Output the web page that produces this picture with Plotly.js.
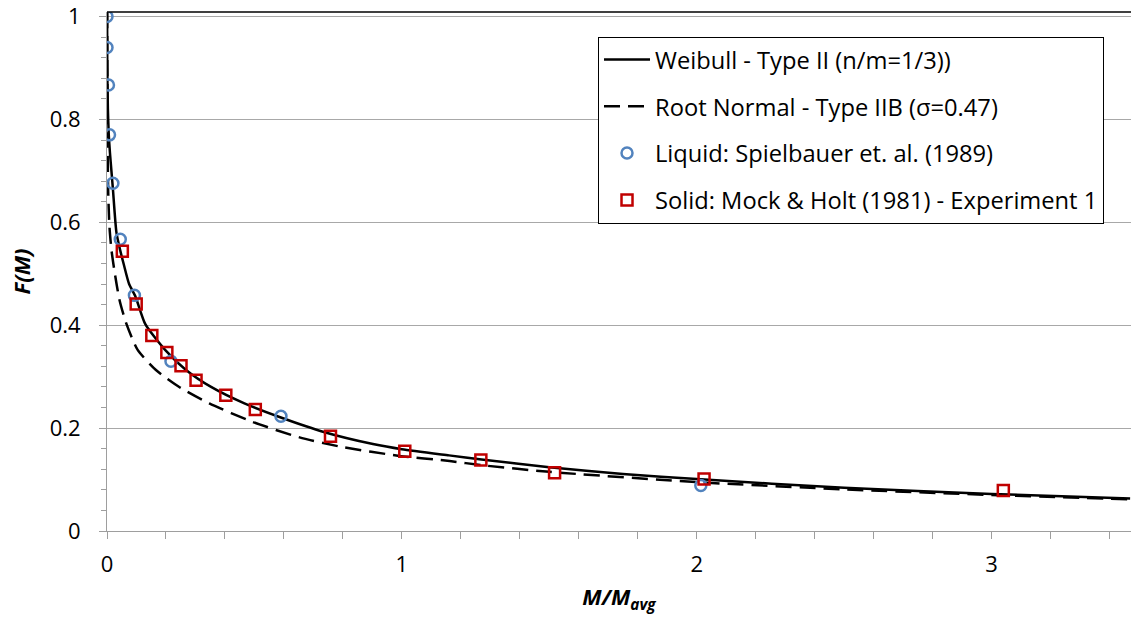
<!DOCTYPE html>
<html>
<head>
<meta charset="utf-8">
<script src="https://cdn.plot.ly/plotly-3.0.1.min.js"></script>
<style>html,body{margin:0;padding:0;background:#fff;}#chart{width:1131px;height:623px;}</style>
</head>
<body>
<div id="chart"></div>
<script>
// Weibull - Type II curve
const weibullX = [0.0003, 0.001, 0.003, 0.006, 0.01, 0.015, 0.02, 0.032, 0.045, 0.057, 0.075, 0.097, 0.13, 0.197, 0.268, 0.353, 0.466, 0.585, 0.738, 0.902, 1.0, 1.16, 1.27, 1.5, 1.75, 2.0, 2.5, 3.0, 3.47];
const weibullY = [1.009, 0.90, 0.82, 0.77, 0.735, 0.70, 0.665, 0.58, 0.545, 0.518, 0.48, 0.455, 0.402, 0.352, 0.313, 0.280, 0.248, 0.2215, 0.192, 0.169, 0.159, 0.147, 0.139, 0.124, 0.111, 0.101, 0.084, 0.072, 0.063];
// Root Normal - Type IIB curve
const rootX = [0.0005, 0.002, 0.004, 0.0085, 0.015, 0.024, 0.042, 0.065, 0.104, 0.166, 0.245, 0.347, 0.494, 0.653, 0.80, 0.992, 1.162, 1.27, 1.5, 2.0, 2.5, 3.0, 3.47];
const rootY = [1.009, 0.75, 0.66, 0.59, 0.547, 0.51, 0.45, 0.404, 0.352, 0.313, 0.280, 0.248, 0.212, 0.182, 0.163, 0.146, 0.136, 0.128, 0.115, 0.095, 0.081, 0.070, 0.0616];
// Liquid: Spielbauer et. al. (1989)
const liquidX = [0.0, 0.0, 0.005, 0.0085, 0.020, 0.045, 0.093, 0.217, 0.590, 2.014];
const liquidY = [1.0, 0.940, 0.867, 0.770, 0.676, 0.567, 0.458, 0.330, 0.223, 0.0885];
// Solid: Mock & Holt (1981) - Experiment 1
const solidX = [0.052, 0.099, 0.152, 0.203, 0.251, 0.302, 0.403, 0.503, 0.758, 1.010, 1.268, 1.518, 2.025, 3.04];
const solidY = [0.544, 0.441, 0.380, 0.347, 0.321, 0.293, 0.264, 0.236, 0.184, 0.155, 0.138, 0.113, 0.101, 0.0787];

const FONT = "Open Sans, Lato, Liberation Sans, sans-serif";

const traces = [
  {x: weibullX, y: weibullY, mode: 'lines', name: 'Weibull - Type II (n/m=1/3))', legendgroup: 'a',
   line: {color: '#000000', width: 2.5, shape: 'spline', smoothing: 0.6}},
  {x: rootX, y: rootY, mode: 'lines', name: 'Root Normal - Type IIB (σ=0.47)', legendgroup: 'b',
   line: {color: '#000000', width: 2.5, dash: '16px,8px', shape: 'spline', smoothing: 0.6}},
  {x: liquidX, y: liquidY, mode: 'markers', name: 'Liquid: Spielbauer et. al. (1989)', legendgroup: 'c',
   marker: {symbol: 'circle-open', size: 11, color: '#5283BE', line: {width: 2.5, color: '#5283BE'}}},
  {x: solidX, y: solidY, mode: 'markers', name: 'Solid: Mock & Holt (1981) - Experiment 1', legendgroup: 'd',
   marker: {symbol: 'square-open', size: 11, color: '#C00000', line: {width: 2.5, color: '#C00000'}}}
];

const layout = {
  width: 1131, height: 623,
  margin: {l: 107, r: 0, t: 12, b: 92},
  paper_bgcolor: '#ffffff', plot_bgcolor: '#ffffff',
  font: {family: FONT, size: 22, color: '#000000'},
  showlegend: true,
  legend: {
    x: 0.4795, y: 0.9527, xanchor: 'left', yanchor: 'top',
    bgcolor: '#ffffff', bordercolor: '#000000', borderwidth: 1,
    font: {family: FONT, size: 23.7, color: '#000000'},
    tracegroupgap: 13, itemwidth: 46
  },
  xaxis: {
    range: [0, 3.473], showgrid: false, zeroline: false,
    showline: true, linecolor: '#9E9E9E', linewidth: 1,
    tickmode: 'linear', tick0: 0, dtick: 1,
    ticks: 'outside', ticklen: 7, tickcolor: '#9E9E9E', tickwidth: 1,
    minor: {dtick: 0.2, ticks: 'outside', ticklen: 7, tickcolor: '#9E9E9E', tickwidth: 1, showgrid: false},
    tickfont: {family: FONT, size: 22, color: '#000000'},
    ticklabelstandoff: 7,
    title: {text: '<b><i>M/M<sub>avg</sub></i></b>', font: {family: FONT, size: 22, color: '#000000'}, standoff: 12}
  },
  yaxis: {
    range: [0, 1.0088], zeroline: false,
    showgrid: true, gridcolor: '#A8A8A8', gridwidth: 1,
    showline: true, linecolor: '#9E9E9E', linewidth: 1,
    tickmode: 'linear', tick0: 0, dtick: 0.2,
    ticks: 'outside', ticklen: 7, tickcolor: '#9E9E9E', tickwidth: 1,
    minor: {dtick: 0.04, ticks: 'outside', ticklen: 5, tickcolor: '#9E9E9E', tickwidth: 1, showgrid: false},
    tickfont: {family: FONT, size: 22, color: '#000000'},
    ticklabelstandoff: 14,
    title: {text: '<b><i>F(M)</i></b>', font: {family: FONT, size: 22, color: '#000000'}, standoff: 12}
  },
  shapes: [
    {type: 'line', xref: 'paper', yref: 'paper', x0: 0, x1: 1, y0: 1, y1: 1, line: {color: '#000000', width: 1.5}}
  ]
};

Plotly.newPlot('chart', traces, layout, {displayModeBar: false, staticPlot: true});
</script>
</body>
</html>
